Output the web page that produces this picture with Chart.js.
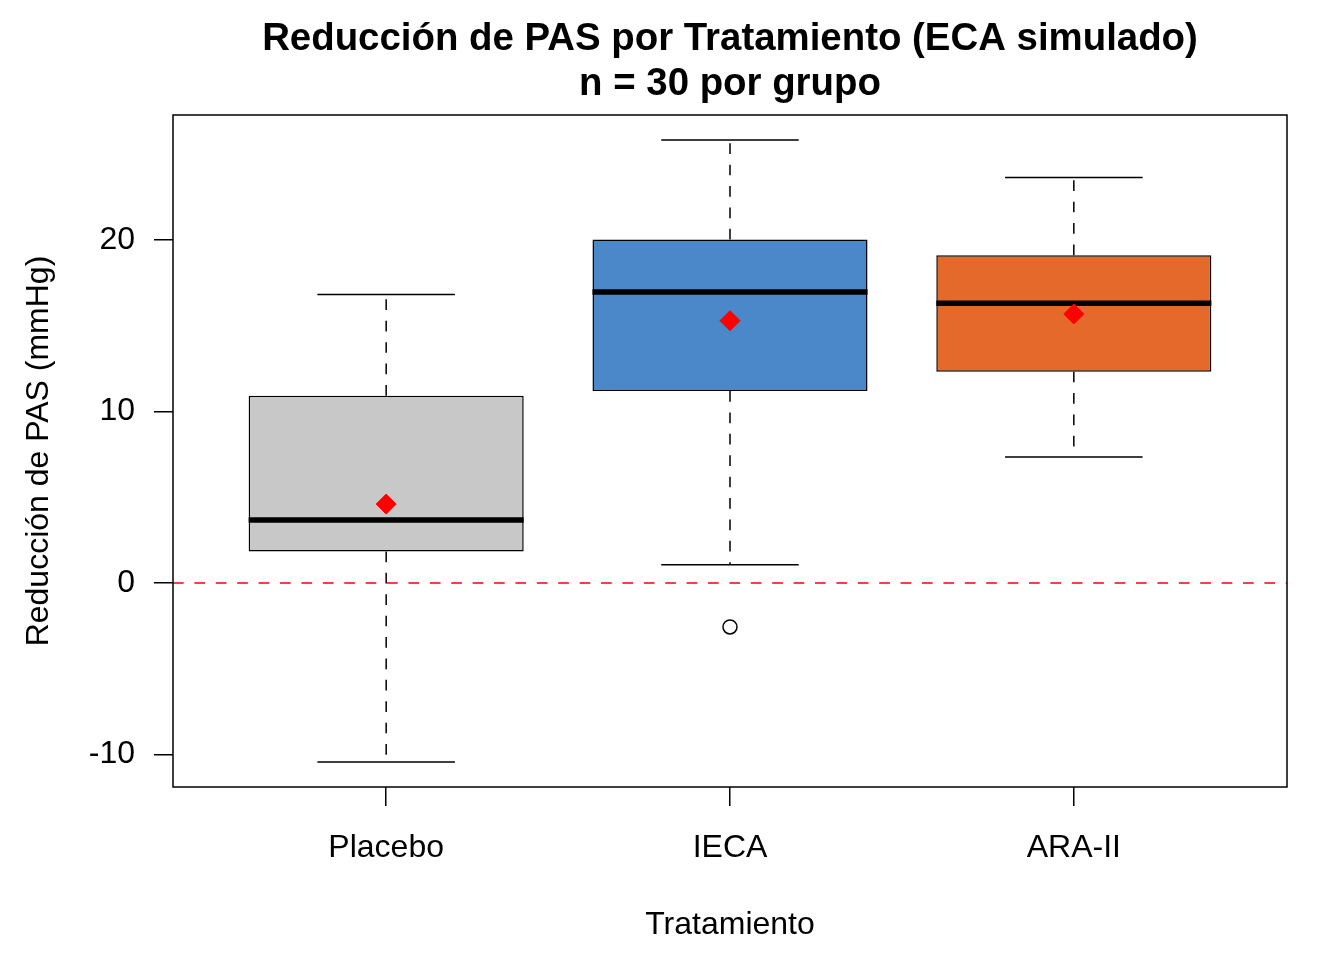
<!DOCTYPE html>
<html lang="es">
<head>
<meta charset="utf-8">
<title>Reducción de PAS por Tratamiento</title>
<script src="https://cdn.jsdelivr.net/npm/chart.js@4.4.1/dist/chart.umd.min.js"></script>
<style>
  html, body { margin: 0; padding: 0; background: #fff; }
  #grafico { display: block; }
</style>
</head>
<body>
<canvas id="grafico" width="1344" height="960"></canvas>
<script>
// Datos del boxplot
const grupos = ['Placebo', 'IECA', 'ARA-II'];
const bigoteInf = [-10.44, 1.07, 7.35];
const q1 = [1.84, 11.19, 12.32];
const medianas = [3.67, 16.96, 16.30];
const q3 = [10.92, 20.02, 19.11];
const bigoteSup = [16.82, 25.83, 23.63];
const medias = [4.60, 15.29, 15.68];
const atipicosGrupo = [2];
const atipicosValor = [-2.56];
const ticksY = [-10, 0, 10, 20];
const colores = ['#C8C8C8', '#4A88CA', '#E5692A'];

const fuente = '"Liberation Sans", Arial, Helvetica, sans-serif';

// Bigotes, medianas, linea de referencia y marco
const cajas = {
  id: 'cajas',
  beforeDatasetsDraw(chart) {
    const {ctx, scales: {x, y}} = chart;
    ctx.save();
    ctx.strokeStyle = '#000';
    ctx.lineWidth = 1.5;
    grupos.forEach((g, i) => {
      const cx = x.getPixelForValue(i + 1);
      const semi = x.getPixelForValue(i + 1.2) - cx;
      // bigotes discontinuos
      ctx.setLineDash([10.7, 10.7]);
      ctx.beginPath();
      ctx.moveTo(cx, y.getPixelForValue(q3[i]));
      ctx.lineTo(cx, y.getPixelForValue(bigoteSup[i]));
      ctx.moveTo(cx, y.getPixelForValue(q1[i]));
      ctx.lineTo(cx, y.getPixelForValue(bigoteInf[i]));
      ctx.stroke();
      // topes
      ctx.setLineDash([]);
      ctx.beginPath();
      [bigoteSup[i], bigoteInf[i]].forEach(v => {
        const py = y.getPixelForValue(v);
        ctx.moveTo(cx - semi, py);
        ctx.lineTo(cx + semi, py);
      });
      ctx.stroke();
    });
    ctx.restore();
  },
  afterDatasetDraw(chart, args) {
    if (args.index !== 0) return;
    const {ctx, scales: {y}} = chart;
    const meta = chart.getDatasetMeta(0);
    ctx.save();
    ctx.strokeStyle = '#000';
    ctx.lineWidth = 5.5;
    meta.data.forEach((bar, i) => {
      const py = y.getPixelForValue(medianas[i]);
      ctx.beginPath();
      ctx.moveTo(bar.x - bar.width / 2, py);
      ctx.lineTo(bar.x + bar.width / 2, py);
      ctx.stroke();
    });
    ctx.restore();
  },
  afterDatasetsDraw(chart) {
    const {ctx, chartArea: a, scales: {y}} = chart;
    ctx.save();
    // linea en cero
    const y0 = y.getPixelForValue(0);
    ctx.strokeStyle = '#FF0000';
    ctx.lineWidth = 1.5;
    ctx.setLineDash([10.7, 10.7]);
    ctx.beginPath();
    ctx.moveTo(a.left, y0);
    ctx.lineTo(a.right, y0);
    ctx.stroke();
    // marco
    ctx.setLineDash([]);
    ctx.strokeStyle = '#000';
    ctx.strokeRect(a.left, a.top, a.right - a.left, a.bottom - a.top);
    ctx.restore();
  }
};

const ctxGrafico = document.getElementById('grafico').getContext('2d');
new Chart(ctxGrafico, {
  type: 'bar',
  data: {
    datasets: [{
      label: 'Caja',
      data: grupos.map((g, i) => ({x: i + 1, y: [q1[i], q3[i]]})),
      backgroundColor: colores,
      borderColor: '#000',
      borderWidth: 1.5,
      borderSkipped: false,
      barPercentage: 0.8,
      categoryPercentage: 1,
      order: 3
    }, {
      type: 'line',
      label: 'Media',
      data: grupos.map((g, i) => ({x: i + 1, y: medias[i]})),
      showLine: false,
      pointStyle: 'rectRot',
      pointRadius: 10,
      backgroundColor: '#FF0000',
      borderColor: '#FF0000',
      borderWidth: 1,
      order: 1
    }, {
      type: 'line',
      label: 'Atípicos',
      data: atipicosGrupo.map((g, i) => ({x: g, y: atipicosValor[i]})),
      showLine: false,
      pointStyle: 'circle',
      pointRadius: 7,
      backgroundColor: 'rgba(0,0,0,0)',
      borderColor: '#000',
      borderWidth: 1.5,
      order: 2
    }]
  },
  options: {
    responsive: false,
    animation: false,
    devicePixelRatio: 1,
    layout: {
      padding: {left: 0, right: 57, top: 0, bottom: 0}
    },
    plugins: {
      legend: {display: false},
      tooltip: {enabled: false},
      title: {
        display: true,
        fullSize: false,
        text: ['Reducción de PAS por Tratamiento (ECA simulado)', 'n = 30 por grupo'],
        color: '#000',
        font: {family: fuente, size: 38.4, weight: 'bold', lineHeight: '45px'},
        padding: {top: 17, bottom: 8}
      }
    },
    scales: {
      x: {
        type: 'linear',
        min: 0.38,
        max: 3.62,
        offset: false,
        afterBuildTicks: s => { s.ticks = grupos.map((g, i) => ({value: i + 1})); },
        afterFit: s => { s.height = 173; },
        ticks: {
          callback: v => grupos[v - 1],
          color: '#000',
          font: {family: fuente, size: 32},
          padding: 23,
          maxRotation: 0,
          autoSkip: false
        },
        grid: {
          drawOnChartArea: false,
          drawTicks: true,
          tickLength: 19,
          color: '#000',
          lineWidth: 1.5,
          offset: false
        },
        border: {display: false},
        title: {
          display: true,
          text: 'Tratamiento',
          color: '#000',
          font: {family: fuente, size: 32},
          padding: {top: 0, bottom: 16}
        }
      },
      y: {
        type: 'linear',
        min: -11.89,
        max: 27.28,
        afterBuildTicks: s => { s.ticks = ticksY.map(v => ({value: v})); },
        afterFit: s => { s.width = 173; },
        ticks: {
          callback: v => String(v),
          color: '#000',
          font: {family: fuente, size: 32},
          padding: 19
        },
        grid: {
          drawOnChartArea: false,
          drawTicks: true,
          tickLength: 19,
          color: '#000',
          lineWidth: 1.5
        },
        border: {display: false},
        title: {
          display: true,
          text: 'Reducción de PAS (mmHg)',
          color: '#000',
          font: {family: fuente, size: 32},
          padding: {top: 20, bottom: 0}
        }
      }
    }
  },
  plugins: [cajas]
});
</script>
</body>
</html>
